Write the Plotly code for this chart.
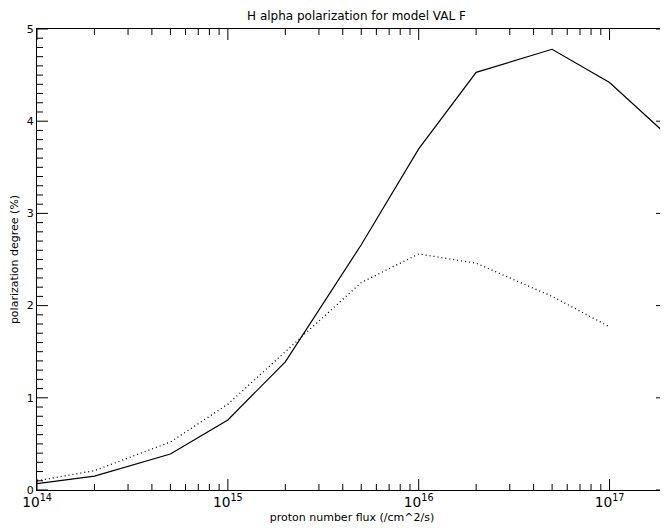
"""H alpha polarization vs proton flux, IDL-style line plot."""

import plotly.graph_objects as go

# proton number flux (/cm^2/s)
flux = [1e14, 2e14, 5e14, 1e15, 2e15, 5e15, 1e16, 2e16, 5e16, 1e17, 2e17]
# polarization degree (%), solid curve
pol_solid = [0.07, 0.15, 0.39, 0.76, 1.39, 2.66, 3.70, 4.53, 4.78, 4.42, 3.85]
# dotted curve stops at 1e17
flux_dot = [1e14, 2e14, 5e14, 1e15, 2e15, 5e15, 1e16, 2e16, 5e16, 1e17]
pol_dot = [0.10, 0.21, 0.52, 0.93, 1.50, 2.25, 2.56, 2.46, 2.10, 1.77]

# axis tick positions (IDL style: ticks inside on all four sides)
x_decades = [1e14, 1e15, 1e16, 1e17]
x_minor = [m * d for d in x_decades[:-1] for m in range(2, 10)]
y_major = [0, 1, 2, 3, 4, 5]
y_minor = [i / 10 for i in range(51) if i % 10]

font = dict(family="DejaVu Sans, sans-serif", size=11, color="black")

fig = go.Figure()
fig.add_trace(go.Scatter(x=flux, y=pol_solid, mode="lines",
                         line=dict(color="black", width=1.2)))
fig.add_trace(go.Scatter(x=flux_dot, y=pol_dot, mode="lines",
                         line=dict(color="black", width=1.3, dash="1px,3px")))

# plotly's own inside ticks do not show up in the renderer, so draw them as shapes
tick_line = dict(color="black", width=1)
shapes = []
for vals, length in [(x_decades, 11), (x_minor, 6)]:
    for v in vals:
        shapes.append(dict(type="line", xref="x", yref="paper", ysizemode="pixel",
                           yanchor=0, x0=v, x1=v, y0=0, y1=length, line=tick_line))
        shapes.append(dict(type="line", xref="x", yref="paper", ysizemode="pixel",
                           yanchor=1, x0=v, x1=v, y0=0, y1=-length, line=tick_line))
for vals, length in [(y_major, 11), (y_minor, 6)]:
    for v in vals:
        shapes.append(dict(type="line", xref="paper", yref="y", xsizemode="pixel",
                           xanchor=0, x0=0, x1=length, y0=v, y1=v, line=tick_line))
        shapes.append(dict(type="line", xref="paper", yref="y", xsizemode="pixel",
                           xanchor=1, x0=0, x1=-length, y0=v, y1=v, line=tick_line))

fig.update_xaxes(
    type="log", range=[14, 17.301], dtick=1, ticks="",
    showline=True, linecolor="black", mirror=True,
    showgrid=False, zeroline=False,
    exponentformat="power", tickfont=font,
    title=dict(text="proton number flux (/cm^2/s)", font=font, standoff=4),
)
fig.update_yaxes(
    range=[0, 5], dtick=1, ticks="",
    showline=True, linecolor="black", mirror=True,
    showgrid=False, zeroline=False, tickfont=font,
    title=dict(text="polarization degree (%)", font=font, standoff=6),
)

# page body has an 8px margin, so the figure is 660x520 and sits at (8, 8)
fig.update_layout(
    template="none",
    width=660, height=520,
    title=dict(text="H alpha polarization for model VAL F", x=0.528, xanchor="center",
               y=0.993, yanchor="top",
               font=dict(family="DejaVu Sans, sans-serif", size=12, color="black")),
    shapes=shapes,
    paper_bgcolor="white", plot_bgcolor="white",
    showlegend=False,
    margin=dict(l=29, r=1, t=21, b=38, autoexpand=False),
    font=font,
)

fig.write_html("out.html")
